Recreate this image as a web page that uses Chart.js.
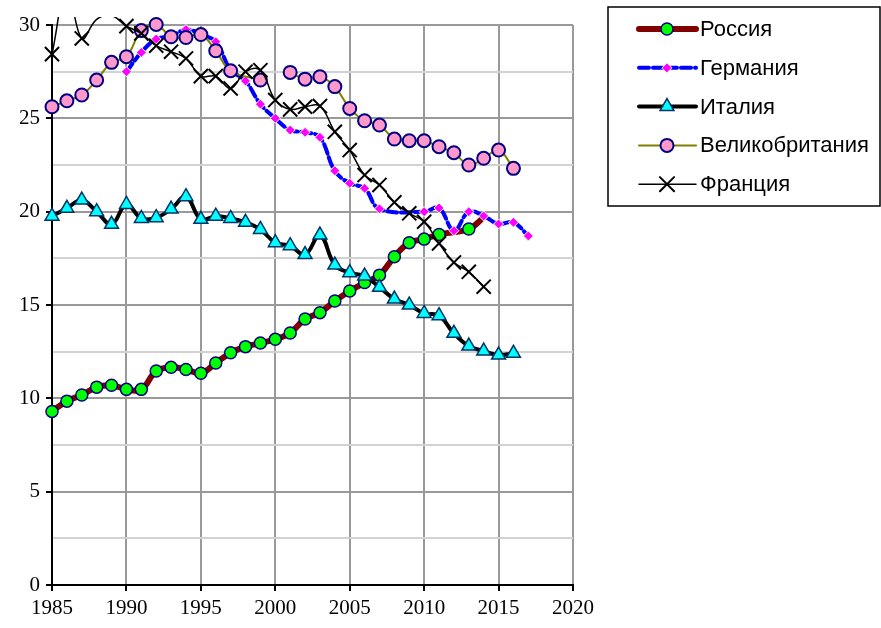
<!DOCTYPE html>
<html>
<head>
<meta charset="utf-8">
<title>Россия, Германия, Италия, Великобритания, Франция</title>
<script src="https://cdn.jsdelivr.net/npm/chart.js@4.4.1/dist/chart.umd.min.js"></script>
<style>
body { margin: 0; background: #fff; }
#chart { display: block; }
</style>
</head>
<body>
<canvas id="chart" width="881" height="628"></canvas>
<script>
// data
const russiaYears = [1985,1986,1987,1988,1989,1990,1991,1992,1993,1994,1995,1996,1997,1998,1999,2000,2001,2002,2003,2004,2005,2006,2007,2008,2009,2010,2011,2013,2014];
const russiaValues = [9.3,9.85,10.18,10.6,10.7,10.48,10.48,11.46,11.66,11.55,11.34,11.89,12.44,12.77,12.96,13.16,13.5,14.25,14.59,15.21,15.75,16.2,16.6,17.59,18.34,18.53,18.78,19.07,19.7];

const germanyYears = [1990,1991,1992,1993,1994,1995,1996,1997,1998,1999,2000,2001,2002,2003,2004,2005,2006,2007,2010,2011,2012,2013,2014,2015,2016,2017];
const germanyValues = [27.5,28.53,29.25,29.4,29.76,29.5,29.1,27.6,27.0,25.76,25.0,24.37,24.25,23.98,22.19,21.52,21.25,20.15,20.0,20.2,18.98,20.0,19.77,19.34,19.43,18.7];

const italyYears = [1985,1986,1987,1988,1989,1990,1991,1992,1993,1994,1995,1996,1997,1998,1999,2000,2001,2002,2003,2004,2005,2006,2007,2008,2009,2010,2011,2012,2013,2014,2015,2016];
const italyValues = [19.76,20.18,20.62,20.0,19.32,20.39,19.64,19.68,20.14,20.8,19.59,19.76,19.64,19.43,19.05,18.34,18.18,17.7,18.75,17.14,16.73,16.55,15.95,15.32,15.0,14.55,14.43,13.48,12.8,12.53,12.32,12.41];

const ukYears = [1985,1986,1987,1988,1989,1990,1991,1992,1993,1994,1995,1996,1997,1999,2000,2001,2002,2003,2004,2005,2006,2007,2008,2009,2010,2011,2012,2013,2014,2015,2016];
const ukValues = [25.62,25.94,26.25,27.05,28.0,28.3,29.7,30.03,29.37,29.33,29.49,28.62,27.55,27.05,null,27.46,27.1,27.23,26.7,25.53,24.87,24.64,23.89,23.8,23.8,23.48,23.16,22.5,22.86,23.3,22.32];

const franceYears = [1985,1986,1987,1988,1989,1990,1991,1992,1993,1994,1995,1996,1997,1998,1999,2000,2001,2002,2003,2004,2005,2006,2007,2008,2009,2010,2011,2012,2013,2014];
const franceValues = [28.44,32,29.28,30.3,30.5,29.94,29.55,28.89,28.57,28.21,27.26,27.26,26.6,27.5,27.58,25.98,25.48,25.62,25.66,24.28,23.3,21.96,21.43,20.5,19.91,19.46,18.3,17.28,16.78,15.98];

const seriesNames = ['Россия', 'Германия', 'Италия', 'Великобритания', 'Франция'];

function toPoints(years, values) {
  return years.map((yr, i) => ({ x: yr, y: values[i] }));
}

// russia: last point has no marker in the picture
const russiaRadius = russiaYears.map((yr) => yr === 2014 ? 0 : 6);

const datasets = [
  {
    label: seriesNames[0],
    data: toPoints(russiaYears, russiaValues),
    borderColor: '#800000', borderWidth: 6,
    pointStyle: 'circle', pointRadius: russiaRadius, markerSize: 6,
    pointBackgroundColor: '#00ff00', pointBorderColor: '#000080', pointBorderWidth: 1.5,
    order: 5
  },
  {
    label: seriesNames[1],
    data: toPoints(germanyYears, germanyValues),
    borderColor: '#0000ff', borderWidth: 4, borderDash: [10, 4],
    pointStyle: 'rectRot', pointRadius: 5, markerSize: 5,
    pointBackgroundColor: '#ff00ff', pointBorderColor: '#ffffff', pointBorderWidth: 1,
    order: 4
  },
  {
    label: seriesNames[2],
    data: toPoints(italyYears, italyValues),
    borderColor: '#000000', borderWidth: 4,
    pointStyle: 'triangle', pointRadius: 8, markerSize: 8,
    pointBackgroundColor: '#00ffff', pointBorderColor: '#003366', pointBorderWidth: 1.5,
    order: 3
  },
  {
    label: seriesNames[3],
    data: toPoints(ukYears, ukValues),
    borderColor: '#808000', borderWidth: 2,
    pointStyle: 'circle', pointRadius: 6.5, markerSize: 6.5,
    pointBackgroundColor: '#ff99cc', pointBorderColor: '#000080', pointBorderWidth: 2,
    order: 2
  },
  {
    label: seriesNames[4],
    data: toPoints(franceYears, franceValues),
    borderColor: '#000000', borderWidth: 1.5,
    pointStyle: 'crossRot', markerSize: 10,
    pointRadius: (c) => (c.raw && c.raw.y > 30) ? 0 : 10,
    pointBackgroundColor: '#000000', pointBorderColor: '#000000', pointBorderWidth: 2,
    clip: { left: 10, top: 8, right: 10, bottom: 10 },
    order: 1
  }
];

datasets.forEach((ds) => {
  ds.tension = 0.4;
  ds.fill = false;
  ds.spanGaps = false;
  ds.borderJoinStyle = 'round';
  ds.borderCapStyle = 'round';
  ds.pointHoverRadius = ds.markerSize;
  if (!ds.clip) ds.clip = 10;
});

// legend box on the right, drawn by hand so the line sample shows too
const boxLegend = {
  id: 'boxLegend',
  afterDraw(chart) {
    const ctx = chart.ctx;
    ctx.save();
    ctx.fillStyle = '#fff';
    ctx.fillRect(608, 7, 272, 199);
    ctx.strokeStyle = '#000';
    ctx.lineWidth = 1.5;
    ctx.strokeRect(608, 7, 272, 199);
    chart.data.datasets.forEach((ds, i) => {
      const y = 29 + i * 38.8;
      ctx.beginPath();
      ctx.setLineDash(ds.borderDash || []);
      ctx.strokeStyle = ds.borderColor;
      ctx.lineWidth = ds.borderWidth;
      ctx.lineCap = 'round';
      ctx.moveTo(639, y);
      ctx.lineTo(696, y);
      ctx.stroke();
      ctx.setLineDash([]);
      ctx.fillStyle = ds.pointBackgroundColor;
      ctx.strokeStyle = ds.pointBorderColor;
      ctx.lineWidth = ds.pointBorderWidth;
      Chart.helpers.drawPoint(ctx, {
        pointStyle: ds.pointStyle, radius: ds.markerSize, borderWidth: ds.pointBorderWidth, rotation: 0
      }, 667, y);
      ctx.fillStyle = '#000';
      ctx.font = '22px "Liberation Sans", Arial, sans-serif';
      ctx.textBaseline = 'middle';
      ctx.textAlign = 'left';
      ctx.fillText(ds.label, 700, y + 1);
    });
    ctx.restore();
  }
};

const tickFont = { family: '"Liberation Serif", "Times New Roman", serif', size: 21 };

new Chart(document.getElementById('chart'), {
  type: 'line',
  data: { datasets: datasets },
  options: {
    responsive: false,
    animation: false,
    events: [],
    layout: { padding: { top: 25, right: 308, left: 0, bottom: 0 } },
    plugins: { legend: { display: false }, tooltip: { enabled: false } },
    scales: {
      x: {
        type: 'linear', min: 1985, max: 2020,
        ticks: {
          stepSize: 5, color: '#000', font: tickFont, padding: 5, maxRotation: 0,
          callback: (v) => String(v)
        },
        grid: {
          color: (c) => c.tick && c.tick.value === 1985 ? '#000' : '#999',
          lineWidth: 2, tickLength: 6, tickColor: '#000', tickWidth: 2
        },
        border: { color: '#000', width: 2 },
        afterFit: (s) => { s.height = 43; }
      },
      y: {
        min: 0, max: 30,
        ticks: {
          stepSize: 2.5, color: '#000', font: tickFont, padding: 6,
          callback: (v) => v % 5 === 0 ? String(v) : ''
        },
        grid: {
          color: (c) => {
            if (!c.tick) return '#999';
            if (c.tick.value === 0) return '#000';
            return c.tick.value % 5 === 0 ? '#999' : '#d2d2d2';
          },
          lineWidth: 2, tickLength: 6, tickWidth: 2,
          tickColor: (c) => c.tick && c.tick.value % 5 === 0 ? '#000' : 'rgba(0,0,0,0)'
        },
        border: { color: '#000', width: 2 },
        afterFit: (s) => { s.width = 52; }
      }
    }
  },
  plugins: [boxLegend]
});
</script>
</body>
</html>
